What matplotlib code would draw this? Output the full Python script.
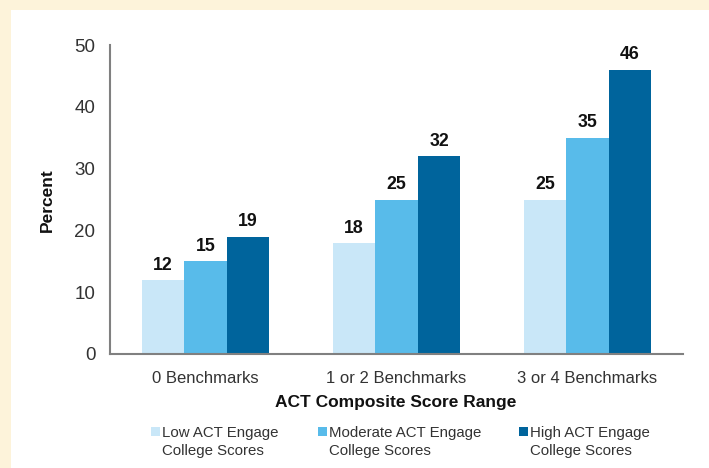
import matplotlib
matplotlib.use("Agg")
import matplotlib.pyplot as plt
from matplotlib.patches import Rectangle
import numpy as np

categories = ["0 Benchmarks", "1 or 2 Benchmarks", "3 or 4 Benchmarks"]
series_names = ["Low ACT Engage\nCollege Scores",
                "Moderate ACT Engage\nCollege Scores",
                "High ACT Engage\nCollege Scores"]
low_vals = [12, 18, 25]
mod_vals = [15, 25, 35]
high_vals = [19, 32, 46]
y_ticks = [0, 10, 20, 30, 40, 50]

colors = ["#C9E7F8", "#58BBEA", "#00649C"]
plt.rcParams['font.family'] = ['Liberation Sans', 'DejaVu Sans']

W, H = 709, 468
fig = plt.figure(figsize=(W / 100, H / 100), dpi=100)
fig.patch.set_facecolor("#FDF3DA")
fig.add_artist(Rectangle((11 / W, 0), 1 - 11 / W, (H - 10) / H,
                         transform=fig.transFigure, facecolor="white",
                         edgecolor="none", zorder=0))

ax = fig.add_axes([110 / W, (H - 354) / H, (683 - 110) / W, (354 - 45) / H])
ax.set_facecolor("none")

x = np.arange(len(categories))
bw = 0.223
for i, vals in enumerate([low_vals, mod_vals, high_vals]):
    pos = x + (i - 1) * bw
    bars = ax.bar(pos, vals, width=bw, color=colors[i], zorder=2)
    for b, v in zip(bars, vals):
        ax.annotate(str(v), (b.get_x() + b.get_width() / 2, v),
                    xytext=(0, 4.5), textcoords="offset points",
                    ha="center", va="bottom", fontsize=12.8,
                    fontweight="bold", color="#111111")

ax.set_xlim(-0.5, 2.5)
ax.set_ylim(0, 50)
ax.set_yticks(y_ticks)
ax.set_xticks(x)
ax.set_xticklabels(categories)
ax.tick_params(axis="both", length=0, labelcolor="#333333")
ax.tick_params(axis="y", pad=10.5, labelsize=13.5)
ax.tick_params(axis="x", pad=12, labelsize=12)
for s in ["top", "right"]:
    ax.spines[s].set_visible(False)
for s in ["left", "bottom"]:
    ax.spines[s].set_color("#808080")
    ax.spines[s].set_linewidth(1.5)

fig.text(396 / W, 1 - 403 / H, "ACT Composite Score Range", ha="center",
         va="center", fontsize=12.5, fontweight="bold", color="#111111")
fig.text(47 / W, 1 - 200 / H, "Percent", ha="center", va="center",
         rotation=90, fontsize=12.5, fontweight="bold", color="#111111")

# legend (manual)
patch_x = [151, 318, 519]
for px, c, name in zip(patch_x, colors, series_names):
    fig.add_artist(Rectangle((px / W, 1 - 435.5 / H), 8.5 / W, 8.5 / H,
                             transform=fig.transFigure, facecolor=c,
                             edgecolor="none"))
    fig.text((px + 11) / W, 1 - 425.5 / H, name, ha="left", va="top",
             fontsize=10.8, color="#333333", linespacing=1.38)

fig.savefig("out.png", dpi=100, facecolor=fig.get_facecolor())
